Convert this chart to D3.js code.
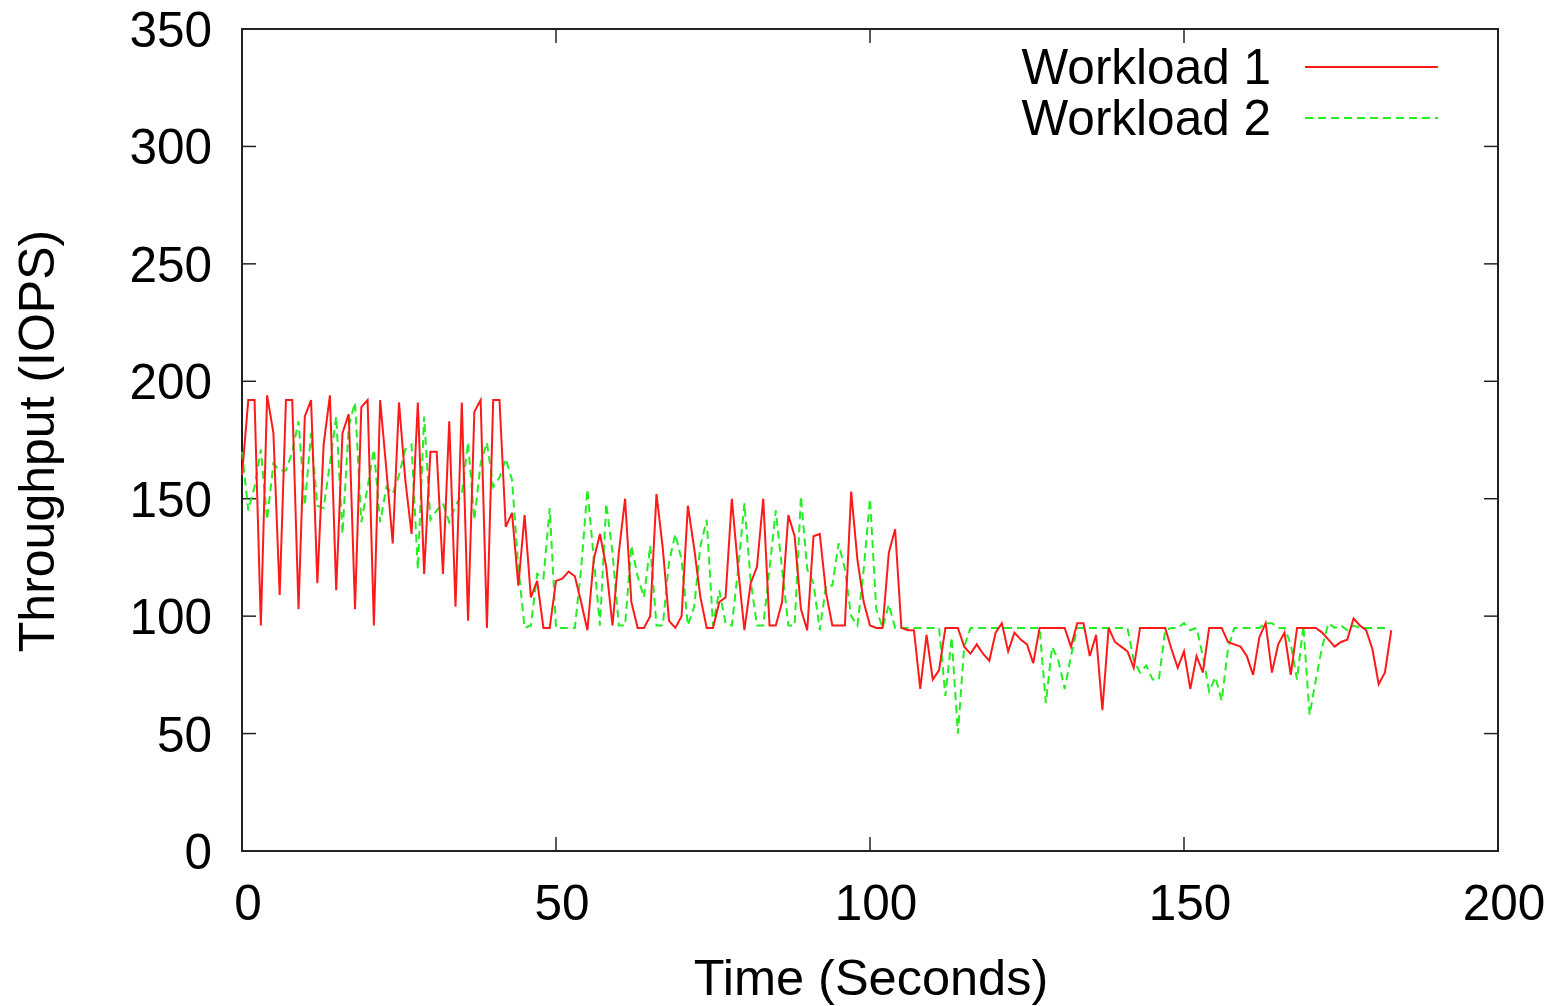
<!DOCTYPE html>
<html><head><meta charset="utf-8">
<script src="https://cdn.jsdelivr.net/npm/d3@7"></script>
<style>body{margin:0;background:#fff}svg{display:block}text{font-family:"Liberation Sans",Arial,sans-serif;fill:#000}</style>
</head><body><svg id="c" width="1558" height="1006"></svg>
<script>
const workload1 = [160,192,192,96,194,178,109,192,192,103,185,192,114,173,194,111,178,186,103,189,192,96,192,162,131,191,158,135,191,118,170,170,118,183,104,191,98,187,192,95,192,192,138,144,113,143,108,115,95,95,115,116,119,117,106,94,124,135,121,96,127,150,106,95,95,100,152,129,98,95,100,147,129,108,95,95,106,108,150,120,94,114,121,150,96,96,106,143,134,103,94,134,135,110,96,96,96,153,124,106,96,95,95,127,137,95,94,94,69,92,73,77,95,95,95,87,84,88,84,81,93,97,85,93,90,88,80,95,95,95,95,95,87,97,97,83,92,60,95,89,87,85,78,95,95,95,95,95,86,78,85,69,83,76,95,95,95,89,88,87,83,75,91,97,76,88,93,75,95,95,95,95,93,90,87,89,90,99,96,94,86,71,76,94];
const workload2 = [170,145,155,171,141,165,162,162,170,183,147,178,147,146,165,185,135,181,191,140,155,171,140,155,152,160,171,173,120,185,141,145,148,140,147,152,174,141,165,174,155,159,167,158,121,95,96,118,116,146,95,95,95,95,120,154,125,96,148,127,96,96,130,117,108,130,96,96,123,135,124,96,104,130,141,96,111,97,96,120,148,115,96,96,120,145,120,96,96,151,120,114,94,113,113,131,120,100,96,120,150,103,95,105,95,95,95,95,95,95,95,95,66,91,50,87,95,95,95,95,95,95,95,95,95,95,95,95,63,87,81,69,83,95,95,95,95,95,95,95,95,95,81,76,79,73,73,94,95,95,97,94,95,83,68,74,64,86,95,95,95,95,95,97,97,95,95,88,73,96,58,73,87,97,95,96,94,96,95,95,95,95,95];
const seriesNames = ["Workload 1","Workload 2"];
const xTicks = [0,50,100,150,200];
const yTicks = [0,50,100,150,200,250,300,350];
const xTitle = "Time (Seconds)";
const yTitle = "Throughput (IOPS)";

const L=242,R=1498,T=29,B=851;
const svg=d3.select("#c");
const x=d3.scaleLinear().domain([0,200]).range([L,R]);
const y=d3.scaleLinear().domain([0,350]).range([B,T]);
const fs=49.5;

const g=svg.append("g");
const tk=14;
xTicks.forEach(v=>{
  g.append("line").attr("x1",x(v)).attr("x2",x(v)).attr("y1",B).attr("y2",B-tk).attr("stroke","#222").attr("stroke-width",1.5);
  g.append("line").attr("x1",x(v)).attr("x2",x(v)).attr("y1",T).attr("y2",T+tk).attr("stroke","#222").attr("stroke-width",1.5);
  g.append("text").attr("x",x(v)+6).attr("y",B+69).attr("text-anchor","middle").attr("font-size",fs).text(v);
});
yTicks.forEach(v=>{
  g.append("line").attr("x1",L).attr("x2",L+tk).attr("y1",y(v)).attr("y2",y(v)).attr("stroke","#222").attr("stroke-width",1.5);
  g.append("line").attr("x1",R).attr("x2",R-tk).attr("y1",y(v)).attr("y2",y(v)).attr("stroke","#222").attr("stroke-width",1.5);
  g.append("text").attr("x",L-30).attr("y",y(v)+18).attr("text-anchor","end").attr("font-size",fs).text(v);
});
g.append("rect").attr("x",L).attr("y",T).attr("width",R-L).attr("height",B-T).attr("fill","none").attr("stroke","#222").attr("stroke-width",2);

g.append("text").attr("x",871).attr("y",995).attr("text-anchor","middle").attr("font-size",50.5).text(xTitle);
g.append("text").attr("transform",`translate(54,441) rotate(-90)`).attr("text-anchor","middle").attr("font-size",50).text(yTitle);

const line=d3.line().x((d,i)=>x(i)).y(d=>y(d));
g.append("path").datum(workload2).attr("d",line).attr("fill","none").attr("stroke","#22ee22").attr("stroke-width",2).attr("stroke-dasharray","8,5");
g.append("path").datum(workload1).attr("d",line).attr("fill","none").attr("stroke","#ff1a1a").attr("stroke-width",2);

const leg=[{name:seriesNames[0],c:"#ff1a1a",d:null,y:67},{name:seriesNames[1],c:"#22ee22",d:"8,5",y:118}];
leg.forEach(o=>{
  g.append("text").attr("x",1271).attr("y",o.y+17).attr("text-anchor","end").attr("font-size",fs).text(o.name);
  g.append("line").attr("x1",1305).attr("x2",1438).attr("y1",o.y).attr("y2",o.y).attr("stroke",o.c).attr("stroke-width",2).attr("stroke-dasharray",o.d);
});
</script></body></html>
